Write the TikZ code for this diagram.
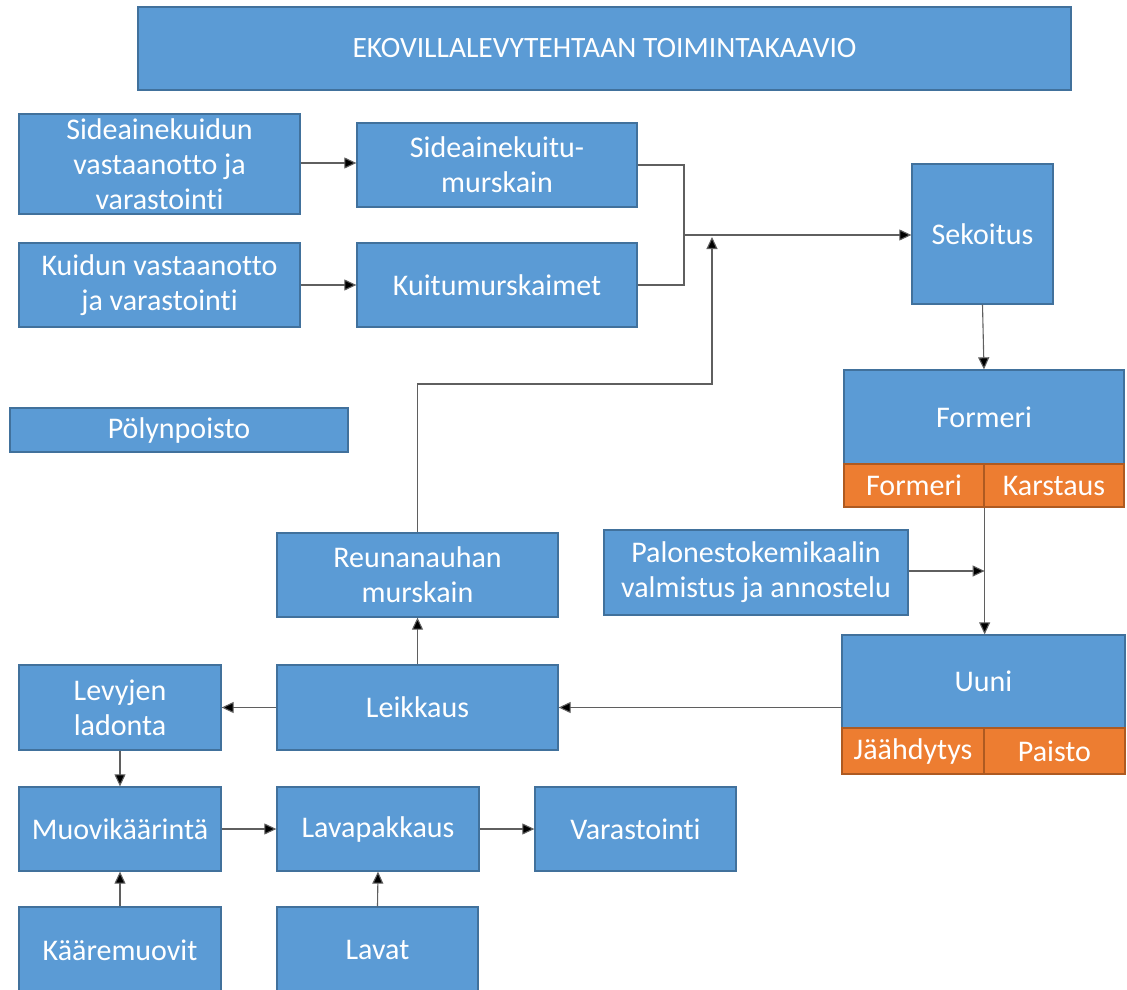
\documentclass[tikz,border=0pt]{standalone}
\usepackage{fontspec}
\setmainfont{Carlito}[Ligatures=NoCommon]
\usepackage{graphicx}
\usetikzlibrary{arrows.meta}
\definecolor{bfill}{HTML}{5B9BD5}
\definecolor{bline}{HTML}{41719C}
\definecolor{ofill}{HTML}{ED7D31}
\definecolor{oline}{HTML}{AE5A21}
\definecolor{conn}{HTML}{5F5F5F}
\tikzset{
  box/.style={draw=bline, fill=bfill, line width=1.3pt, text=white, inner sep=0pt, align=center,
    font=\fontsize{30}{35}\selectfont},
  obox/.style={box, draw=oline, fill=ofill},
  arr/.style={draw=conn, line width=1.1pt, -{Triangle[length=12pt,width=11pt,fill=black]}},
  ln/.style={draw=conn, line width=1.1pt},
}
\begin{document}
\begin{tikzpicture}[x=1pt,y=-1pt]
\useasboundingbox (0,0) rectangle (1127,990);
% title
\node[box, minimum width=933pt, minimum height=83pt] (title) at (604.5,48.5)
  {\resizebox{504pt}{!}{\fontsize{26}{30}\selectfont EKOVILLALEVYTEHTAAN TOIMINTAKAAVIO}};
% boxes
\node[box, minimum width=281pt, minimum height=100pt] (sk) at (159.5,164) {Sideainekuidun\\vastaanotto ja\\varastointi};
\node[box, minimum width=281pt, minimum height=84pt] (kv) at (159.5,285) {Kuidun vastaanotto\\ja varastointi};
\node[box, minimum width=280pt, minimum height=84pt] (skm) at (497,165) {Sideainekuitu-\\murskain};
\node[box, minimum width=280pt, minimum height=84pt] (km) at (497,285) {Kuitumurskaimet};
\node[box, minimum width=141pt, minimum height=140pt] (sek) at (982.5,234) {Sekoitus};
\node[box, minimum width=280pt, minimum height=94pt] (form) at (984,417) {Formeri};
\node[obox, minimum width=140pt, minimum height=43pt] (fl) at (914,485.5) {Formeri};
\node[obox, minimum width=140pt, minimum height=43pt] (fr) at (1054,485.5) {Karstaus};
\node[box, minimum width=304pt, minimum height=85pt] (pal) at (756,572.5) {Palonestokemikaalin\\valmistus ja annostelu};
\node[box, minimum width=283pt, minimum height=93pt] (uuni) at (983.5,681.5) {Uuni};
\node[obox, minimum width=142pt, minimum height=46pt] (ul) at (913,751) {Jäähdytys};
\node[obox, minimum width=141pt, minimum height=46pt] (ur) at (1054.5,751) {Paisto};
\node[box, minimum width=338pt, minimum height=44pt] (pol) at (179,430) {Pölynpoisto};
\node[box, minimum width=281pt, minimum height=84pt] (reu) at (417.5,575) {Reunanauhan\\murskain};
\node[box, minimum width=202pt, minimum height=85pt] (lev) at (120,707.5) {Levyjen\\ladonta};
\node[box, minimum width=281pt, minimum height=85pt] (lei) at (417.5,707.5) {Leikkaus};
\node[box, minimum width=202pt, minimum height=84pt] (muo) at (120,829) {Muovikäärintä};
\node[box, minimum width=202pt, minimum height=84pt] (lav) at (378,829) {Lavapakkaus};
\node[box, minimum width=201pt, minimum height=84pt] (var) at (635.5,829) {Varastointi};
\node[box, minimum width=202pt, minimum height=86pt] (kaa) at (120,950) {Kääremuovit};
\node[box, minimum width=201pt, minimum height=86pt] (lavat) at (377.5,950) {Lavat};
% helper coordinates
\coordinate (j) at (684,235);
\coordinate (r1) at (712,384);
\coordinate (r2) at (712,237);
% connectors
\draw[arr] (sk.east |- 0,163) -- (skm.west |- 0,163);
\draw[arr] (kv.east) -- (km.west);
\draw[ln] (skm.east) -| (j);
\draw[ln] (km.east) -| (j);
\draw[arr] (j) -- (j -| sek.west);
\draw[arr] (reu.north) |- (r1) -- (r2);
\draw[arr] (sek.south) -- (form.north);
\draw[arr] (fl.south east) -- (fl.south east |- uuni.north);
\draw[arr] (pal.east |- 0,571) -- (fl.south east |- 0,571);
\draw[arr] (lei.east -| uuni.west) -- (lei.east);
\draw[arr] (lei.west) -- (lev.east);
\draw[arr] (lei.north) -- (reu.south);
\draw[arr] (lev.south) -- (muo.north);
\draw[arr] (muo.east) -- (lav.west);
\draw[arr] (lav.east) -- (var.west);
\draw[arr] (kaa.north) -- (muo.south);
\draw[arr] (lavat.north) -- (lav.south);
\end{tikzpicture}
\end{document}
